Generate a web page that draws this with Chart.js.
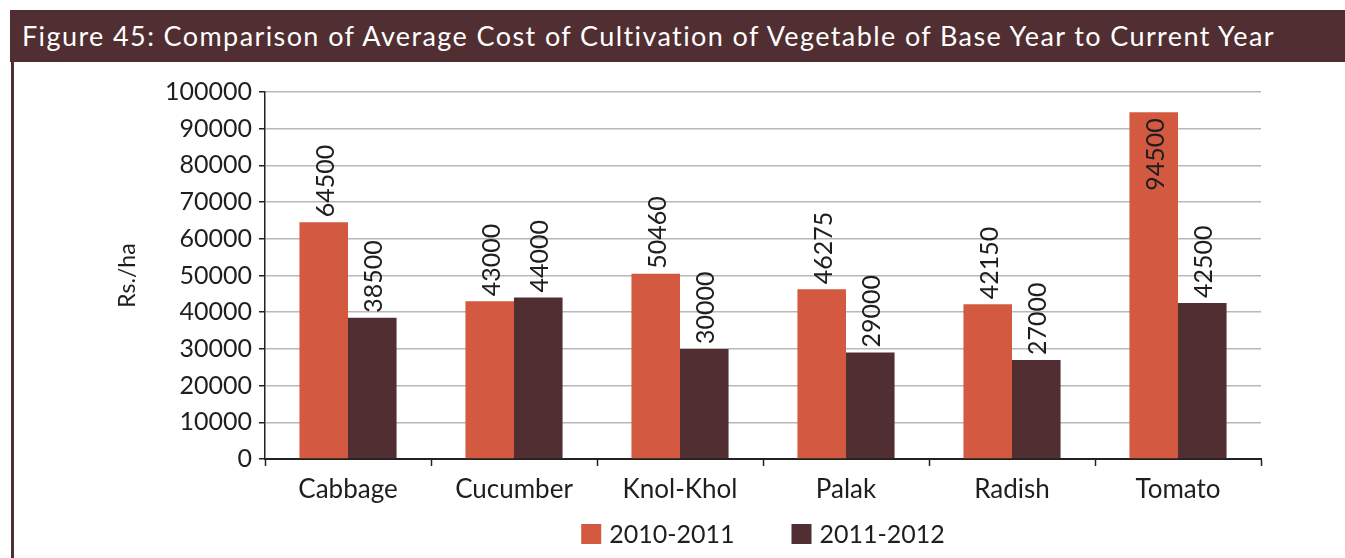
<!DOCTYPE html>
<html>
<head>
<meta charset="utf-8">
<script src="https://cdn.jsdelivr.net/npm/chart.js@4"></script>
<style>
  html, body { margin: 0; padding: 0; background: #fff; }
  body { width: 1345px; height: 558px; position: relative; overflow: hidden; font-family: Lato, sans-serif; }
  #titleBar {
    position: absolute; left: 10px; top: 10px; width: 1335px; height: 52px;
    background: #512e31; color: #fff; font-size: 27px; line-height: 52px; letter-spacing: 1.4px;
    padding-left: 12px; box-sizing: border-box; white-space: nowrap;
  }
  #sideRule { position: absolute; left: 11px; top: 62px; width: 3px; height: 496px; background: #512e31; }
  #chartBox { position: absolute; left: 15px; top: 62px; width: 1330px; height: 496px; }
</style>
</head>
<body>
<div id="titleBar">Figure 45: Comparison of Average Cost of Cultivation of Vegetable of Base Year to Current Year</div>
<div id="sideRule"></div>
<div id="chartBox"><canvas id="costChart"></canvas></div>
<script>
// --- Data ---
const crops = ['Cabbage', 'Cucumber', 'Knol-Khol', 'Palak', 'Radish', 'Tomato'];
const cost2010 = [64500, 43000, 50460, 46275, 42150, 94500];
const cost2011 = [38500, 44000, 30000, 29000, 27000, 42500];
const yTicks = [0, 10000, 20000, 30000, 40000, 50000, 60000, 70000, 80000, 90000, 100000];

const FONT = 'Lato, sans-serif';
const INK = '#1e1e1e';

// --- Rotated value labels on top of each bar ---
const valueLabels = {
    id: 'valueLabels',
    afterDatasetsDraw(chart) {
        const ctx = chart.ctx, top = chart.chartArea.top;
        ctx.save();
        ctx.font = '25px ' + FONT; ctx.fillStyle = INK; ctx.textBaseline = 'middle';
        chart.data.datasets.forEach((ds, i) => {
            chart.getDatasetMeta(i).data.forEach((bar, j) => {
                const text = String(ds.data[j]);
                const w = ctx.measureText(text).width;
                ctx.save();
                ctx.translate(bar.x + 2, bar.y);
                ctx.rotate(-Math.PI / 2);
                if (bar.y - 5 - w < top) { ctx.textAlign = 'right'; ctx.fillText(text, -6, 0); }
                else { ctx.textAlign = 'left'; ctx.fillText(text, 5, 0); }
                ctx.restore();
            });
        });
        ctx.restore();
    }
};

// --- Legend under the x labels, square swatches ---
const swatchLegend = {
    id: 'swatchLegend',
    afterDraw(chart) {
        const ctx = chart.ctx, area = chart.chartArea;
        const box = 20, gap = 8, spacing = 57;
        ctx.save();
        ctx.font = '25px ' + FONT; ctx.textBaseline = 'middle'; ctx.textAlign = 'left';
        const items = chart.data.datasets.map(ds => ({ text: ds.label, color: ds.backgroundColor, w: ctx.measureText(ds.label).width }));
        const total = items.reduce((s, it) => s + box + gap + it.w, 0) + spacing * (items.length - 1);
        let x = (area.left + area.right) / 2 - total / 2;
        const y = area.bottom + 75;
        items.forEach(it => {
            ctx.fillStyle = it.color;
            ctx.fillRect(x, y - box / 2, box, box);
            ctx.fillStyle = INK;
            ctx.fillText(it.text, x + box + gap, y + 1);
            x += box + gap + it.w + spacing;
        });
        ctx.restore();
    }
};

// --- Chart ---
new Chart(document.getElementById('costChart'), {
    type: 'bar',
    data: {
        labels: crops,
        datasets: [
            { label: '2010-2011', data: cost2010, backgroundColor: '#d35a40' },
            { label: '2011-2012', data: cost2011, backgroundColor: '#512e31' }
        ]
    },
    options: {
        responsive: true,
        maintainAspectRatio: false,
        animation: false,
        categoryPercentage: 0.585,
        barPercentage: 1,
        layout: { padding: { left: 95, right: 84, top: 30, bottom: 35 } },
        plugins: {
            tooltip: { enabled: false },
            legend: { display: false }
        },
        scales: {
            x: {
                afterFit: s => { s.height = 64; },
                grid: { offset: true, drawOnChartArea: false, drawTicks: true, tickLength: 7, tickColor: '#222', tickWidth: 1.5 },
                border: { color: '#222', width: 2 },
                ticks: { color: INK, font: { family: FONT, size: 26 }, padding: 8 }
            },
            y: {
                min: 0, max: 100000,
                afterBuildTicks: s => { s.ticks = yTicks.map(v => ({ value: v })); },
                afterFit: s => { s.width = 155; },
                grid: { color: '#b8b8b8', lineWidth: 1.5, tickLength: 6, tickColor: '#222', tickWidth: 1.5 },
                border: { color: '#222', width: 1.5 },
                ticks: { color: INK, font: { family: FONT, size: 25 }, padding: 7, callback: v => String(v) },
                title: { display: true, text: 'Rs./ha', color: INK, font: { family: FONT, size: 23 }, padding: 4 }
            }
        }
    },
    plugins: [valueLabels, swatchLegend]
});
</script>
</body>
</html>
